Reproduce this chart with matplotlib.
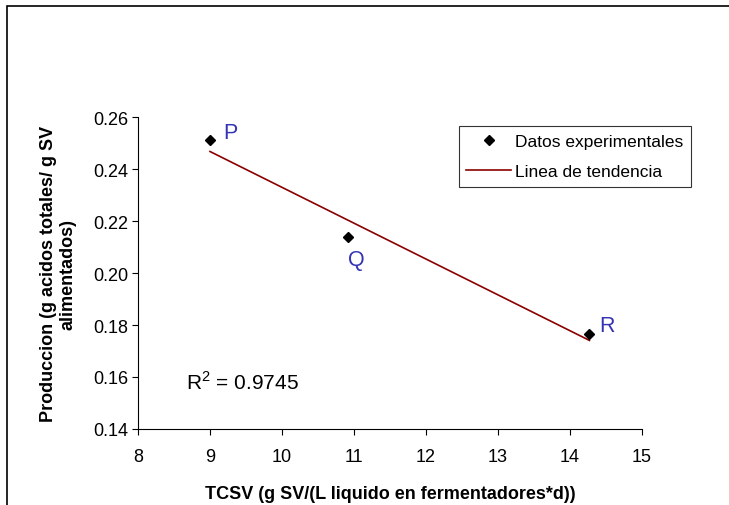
import numpy as np
import matplotlib
matplotlib.use('Agg')
import matplotlib.pyplot as plt
from matplotlib.patches import Rectangle

# data
tcsv = [9.0, 10.91, 14.27]
produccion = [0.251, 0.2137, 0.1765]
point_labels = ['P', 'Q', 'R']
r2_text = 'R$^2$ = 0.9745'
x_ticks = [8, 9, 10, 11, 12, 13, 14, 15]
y_ticks = [0.14, 0.16, 0.18, 0.20, 0.22, 0.24, 0.26]

plt.rcParams['font.family'] = ['Liberation Sans', 'DejaVu Sans']
plt.rcParams['mathtext.fontset'] = 'custom'
plt.rcParams['mathtext.rm'] = 'Liberation Sans'

fig = plt.figure(figsize=(7.29, 5.06), dpi=100)
ax = fig.add_axes([138 / 729, 76 / 506, 504 / 729, 312 / 506])

# outer frame of the chart area (cut off on right/bottom)
fig.patches.append(Rectangle((7 / 729, -0.1), 1.2, (506 - 7) / 506 + 0.1,
                             transform=fig.transFigure, fill=False,
                             edgecolor='black', linewidth=1.2))

ax.plot(tcsv, produccion, linestyle='none', marker='D', color='black',
        markersize=5.5, label='Datos experimentales', zorder=3)

# linear trend line
slope, intercept = np.polyfit(tcsv, produccion, 1)
xs = np.array([min(tcsv), max(tcsv)])
ax.plot(xs, slope * xs + intercept, color='#8B0000', linewidth=1.2,
        label='Linea de tendencia')

offsets = [(15, 6), (6, -16), (13, 6)]
for x, y, lab, off in zip(tcsv, produccion, point_labels, offsets):
    ax.annotate(lab, (x, y), xytext=off, textcoords='offset points',
                fontsize=15.5, color='#3434B4', ha='center', va='center')

ax.text(8.67, 0.1555, r2_text, fontsize=15)

ax.set_xlim(8, 15)
ax.set_ylim(0.14, 0.26)
ax.set_xticks(x_ticks)
ax.set_yticks(y_ticks)
ax.set_yticklabels([f'{v:.2f}' for v in y_ticks])
ax.tick_params(direction='out', length=4, labelsize=13, pad=3)
ax.tick_params(axis='x', pad=10)
for side in ['top', 'right']:
    ax.spines[side].set_visible(False)

ax.set_xlabel('TCSV (g SV/(L liquido en fermentadores*d))', fontsize=13,
              fontweight='bold', labelpad=14)
ax.set_ylabel('Produccion (g acidos totales/ g SV\nalimentados)', fontsize=13,
              fontweight='bold', labelpad=12)

leg = ax.legend(loc='upper right', bbox_to_anchor=(691 / 729, 379 / 506),
                bbox_transform=fig.transFigure, fontsize=12.5, frameon=True,
                fancybox=False, edgecolor='black', handlelength=2.6,
                handletextpad=0.2, borderpad=0.45, labelspacing=0.85,
                borderaxespad=0)
leg.get_frame().set_linewidth(0.8)

fig.savefig('out.png', dpi=100, facecolor='white')
